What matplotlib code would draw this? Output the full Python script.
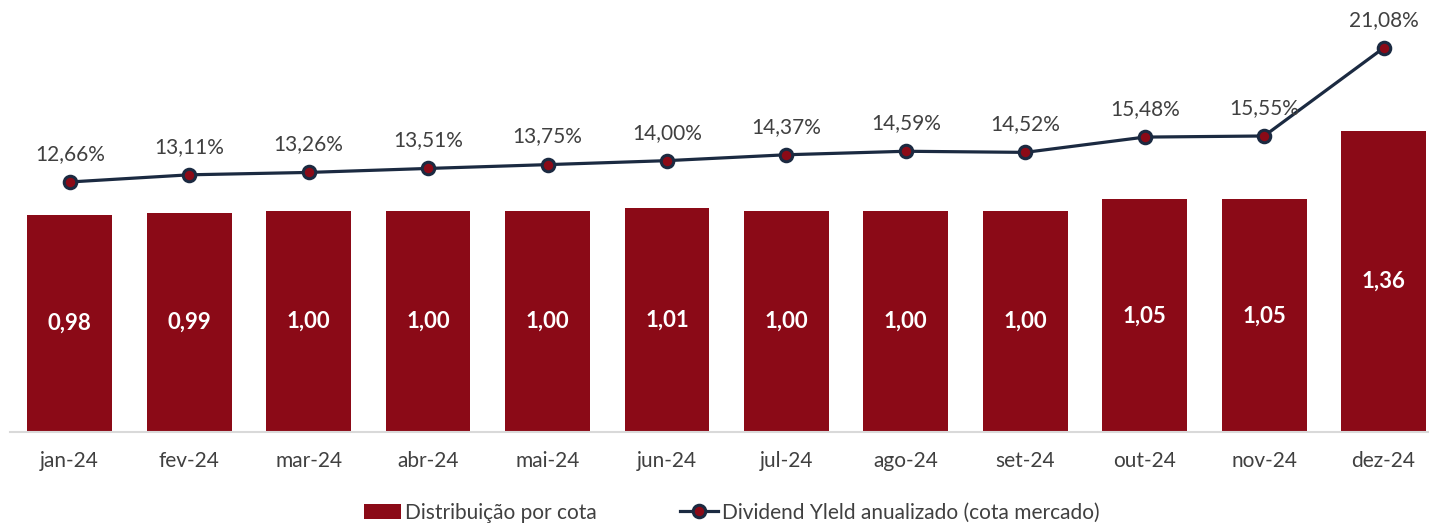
import matplotlib
matplotlib.use("Agg")
import matplotlib.pyplot as plt
import numpy as np

# Data
meses = ["jan-24", "fev-24", "mar-24", "abr-24", "mai-24", "jun-24",
         "jul-24", "ago-24", "set-24", "out-24", "nov-24", "dez-24"]
distribuicao = [0.98, 0.99, 1.00, 1.00, 1.00, 1.01, 1.00, 1.00, 1.00, 1.05, 1.05, 1.36]
dividend_yield = [12.66, 13.11, 13.26, 13.51, 13.75, 14.00, 14.37, 14.59, 14.52, 15.48, 15.55, 21.08]

bar_color = "#8B0A17"
line_color = "#1B2A41"
text_color = "#404040"

plt.rcParams["font.family"] = ["Lato", "DejaVu Sans"]

fig = plt.figure(figsize=(14.29, 5.23), dpi=100)
ax = fig.add_axes([0.007, 0.174, 0.993, 0.807])
x = np.arange(len(meses))

ax.bar(x, distribuicao, width=0.71, color=bar_color, label="Distribuição por cota", zorder=2)
for xi, v in zip(x, distribuicao):
    ax.text(xi, v / 2, f"{v:.2f}".replace(".", ","), ha="center", va="center",
            color="white", fontsize=16, fontweight="bold")

ax.set_xlim(-0.5, 11.38)
ax.set_ylim(0, 1.906)
ax.set_xticks(x)
ax.set_xticklabels(meses, fontsize=15, color=text_color)
ax.tick_params(axis="x", length=0, pad=14)
ax.set_yticks([])
for s in ["top", "right", "left"]:
    ax.spines[s].set_visible(False)
ax.spines["bottom"].set_color("#D9D9D9")
ax.spines["bottom"].set_linewidth(1.5)

ax2 = ax.twinx()
ax2.plot(x, dividend_yield, color=line_color, linewidth=2.3, marker="o", markersize=9,
         markerfacecolor=bar_color, markeredgecolor=line_color, markeredgewidth=2.2,
         label="Dividend Yleld anualizado (cota mercado)", zorder=3)
for xi, v in zip(x, dividend_yield):
    ax2.annotate(f"{v:.2f}%".replace(".", ","), (xi, v), xytext=(0, 13),
                 textcoords="offset points", ha="center", va="bottom",
                 fontsize=15, color=text_color)
ax2.set_ylim(-3.05, 23.47)
ax2.set_yticks([])
for s in ax2.spines.values():
    s.set_visible(False)

h1, l1 = ax.get_legend_handles_labels()
h2, l2 = ax2.get_legend_handles_labels()
fig.legend(h1 + h2, l1 + l2, loc="center", bbox_to_anchor=(0.512, 0.02), ncol=2,
           frameon=False, fontsize=15, labelcolor=text_color, columnspacing=4,
           handlelength=1.8, handletextpad=0.2, borderpad=0)

fig.savefig("out.png", dpi=100)
